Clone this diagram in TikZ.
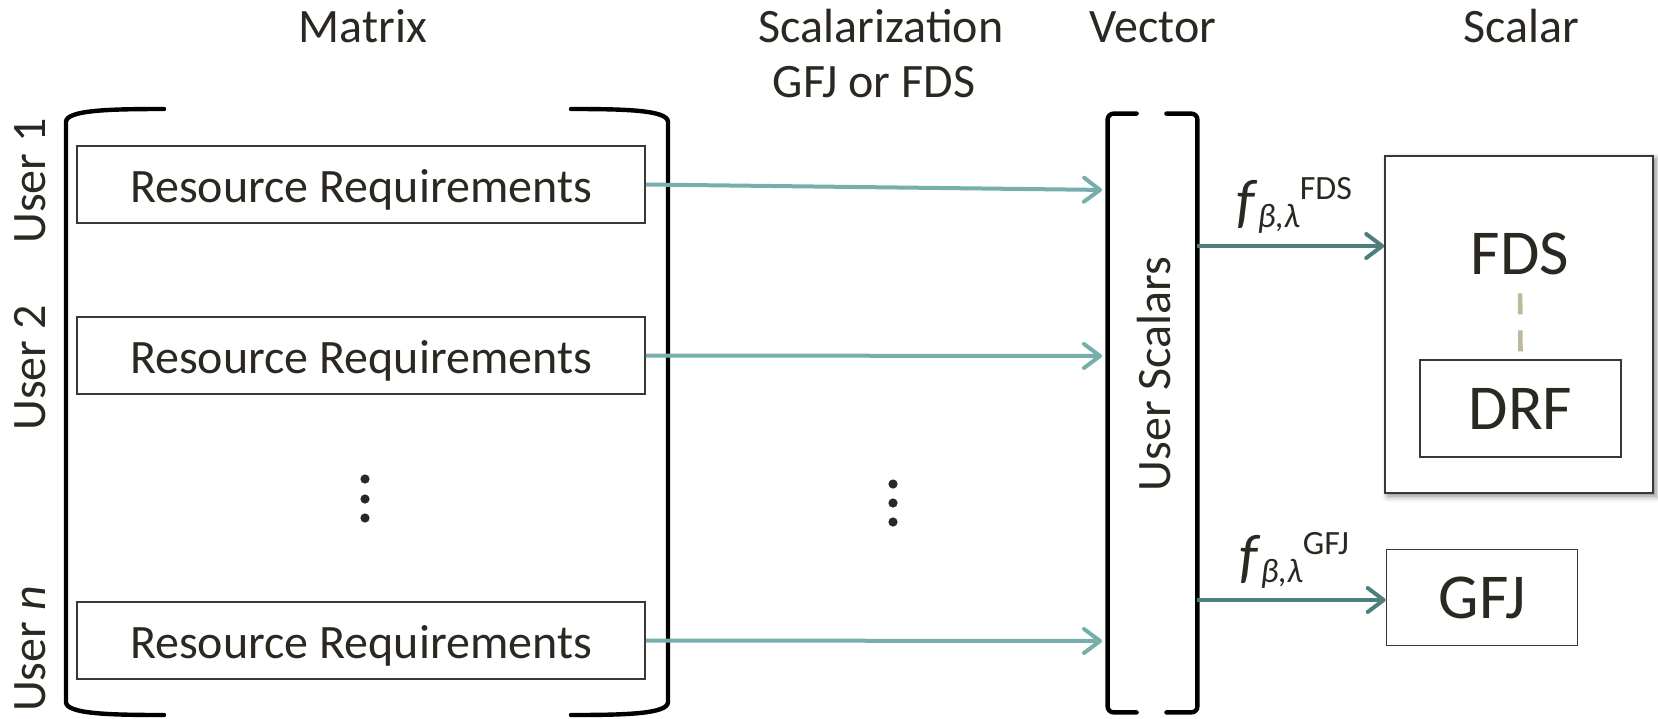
\documentclass[tikz,border=0pt]{standalone}
\usepackage{fontspec}
\setmainfont{Carlito}
\usetikzlibrary{arrows.meta,shadows.blur}

\definecolor{ink}{HTML}{2B2822}
\definecolor{frame}{HTML}{3A3830}
\definecolor{lteal}{HTML}{77AEAB}
\definecolor{dteal}{HTML}{4F7F7D}
\definecolor{dashtan}{HTML}{BFB99C}

\newcommand{\flab}[1]{{\fontsize{30}{30}\selectfont\textit{f}}\raisebox{-3pt}{\fontsize{17}{17}\selectfont\textit{β,λ}}\raisebox{11pt}{\fontsize{17}{17}\selectfont #1}}

\begin{document}
\begin{tikzpicture}[x=0.5pt,y=-0.5pt,
  every node/.style={text=ink,font=\fontsize{24}{28}\selectfont},
  rbox/.style={draw=frame,line width=0.8pt,minimum width=284pt,minimum height=38.5pt,inner sep=0pt,
    text height=18pt,text depth=0pt},
  big/.style={font=\fontsize{32}{36}\selectfont,inner sep=0pt},
  bracket/.style={line width=2.2pt,line cap=round},
  lightarr/.style={draw=lteal,line width=2pt,-{Straight Barb[length=8pt,width=12pt,round]},shorten >=3pt},
  darkarr/.style={draw=dteal,line width=2pt,-{Straight Barb[length=8pt,width=12pt,round]}}]

\useasboundingbox (0,0) rectangle (1658,718);

% headings
\node[anchor=base] (hmat) at (363,42) {Matrix};
\node[anchor=base] (hsca) at (881,42) {Scalarization};
\node[anchor=base] (hgf) at (874,97) {GFJ or FDS};
\node[anchor=base] (hvec) at (1153,42) {Vector};
\node[anchor=base] (hscl) at (1521,42) {Scalar};

% matrix of users
\node[rbox] (rr1) at (361,184.5) {Resource Requirements};
\node[rbox] (rr2) at (361,355.5) {Resource Requirements};
\node[rbox] (rr3) at (361,640.5) {Resource Requirements};
\node[rotate=90,anchor=base] (u1) at (45,181) {User 1};
\node[rotate=90,anchor=base] (u2) at (45,368) {User 2};
\node[rotate=90,anchor=base] (u3) at (45,649) {User \textit{n}};
\foreach \y in {479,499,518} \fill[ink] (365,\y) circle (2.3pt);
\foreach \y in {484,503,522} \fill[ink] (893,\y) circle (2.3pt);

\draw[bracket] (164,109) .. controls (110,109) and (66,110) .. (66,122) -- (66,702)
  .. controls (66,714) and (110,715) .. (164,715);
\draw[bracket] (571,109) .. controls (625,109) and (668,110) .. (668,122) -- (668,702)
  .. controls (668,714) and (625,715) .. (571,715);

% vector
\node[minimum width=44.5pt,minimum height=299pt,inner sep=0pt] (vec) at (1152.5,413) {};
\node[rotate=90,anchor=base] (us) at (1170,374) {User Scalars};
\draw[bracket,rounded corners=3pt] ([xshift=14.5pt]vec.north west) -- (vec.north west)
  -- (vec.south west) -- ([xshift=14.5pt]vec.south west);
\draw[bracket,rounded corners=3pt] ([xshift=-15.5pt]vec.north east) -- (vec.north east)
  -- (vec.south east) -- ([xshift=-15.5pt]vec.south east);

\coordinate (v1) at (1108,190);
\coordinate (v2) at (1108,356);
\coordinate (v3) at (1108,641);
\draw[lightarr] (rr1.east) -- (v1);
\draw[lightarr] (rr2.east) -- (v2);
\draw[lightarr] (rr3.east) -- (v3);

% scalars
\node[draw=frame,line width=0.8pt,fill=white,minimum width=134pt,minimum height=168.5pt,
  blur shadow={shadow xshift=1.5pt,shadow yshift=-1.5pt,shadow blur radius=3pt,shadow opacity=50}]
  (fdsbox) at (1519,324.5) {};
\node[big] (fds) at (1520,254) {FDS};
\node[big,draw=frame,line width=0.8pt,minimum width=100.5pt,minimum height=48.5pt] (drf) at (1520.5,408.5) {DRF};
\draw[dashtan,line width=2.3pt,dash pattern=on 10.5pt off 8pt,shorten <=9pt] (fds.south) -- (drf.north);
\node[big,draw=frame,line width=0.8pt,minimum width=95.5pt,minimum height=48pt] (gfj) at (1482,597.5) {GFJ};

\coordinate (f1) at (1197,246);
\coordinate (g1) at (1197,600);
\draw[darkarr] (f1) -- (fdsbox.west |- f1);
\draw[darkarr] (g1) -- (gfj.west |- g1);
\node[anchor=base west,inner sep=0pt] (lf) at (1236,221) {\flab{FDS}};
\node[anchor=base west,inner sep=0pt] (lg) at (1239,576) {\flab{GFJ}};
\end{tikzpicture}
\end{document}
